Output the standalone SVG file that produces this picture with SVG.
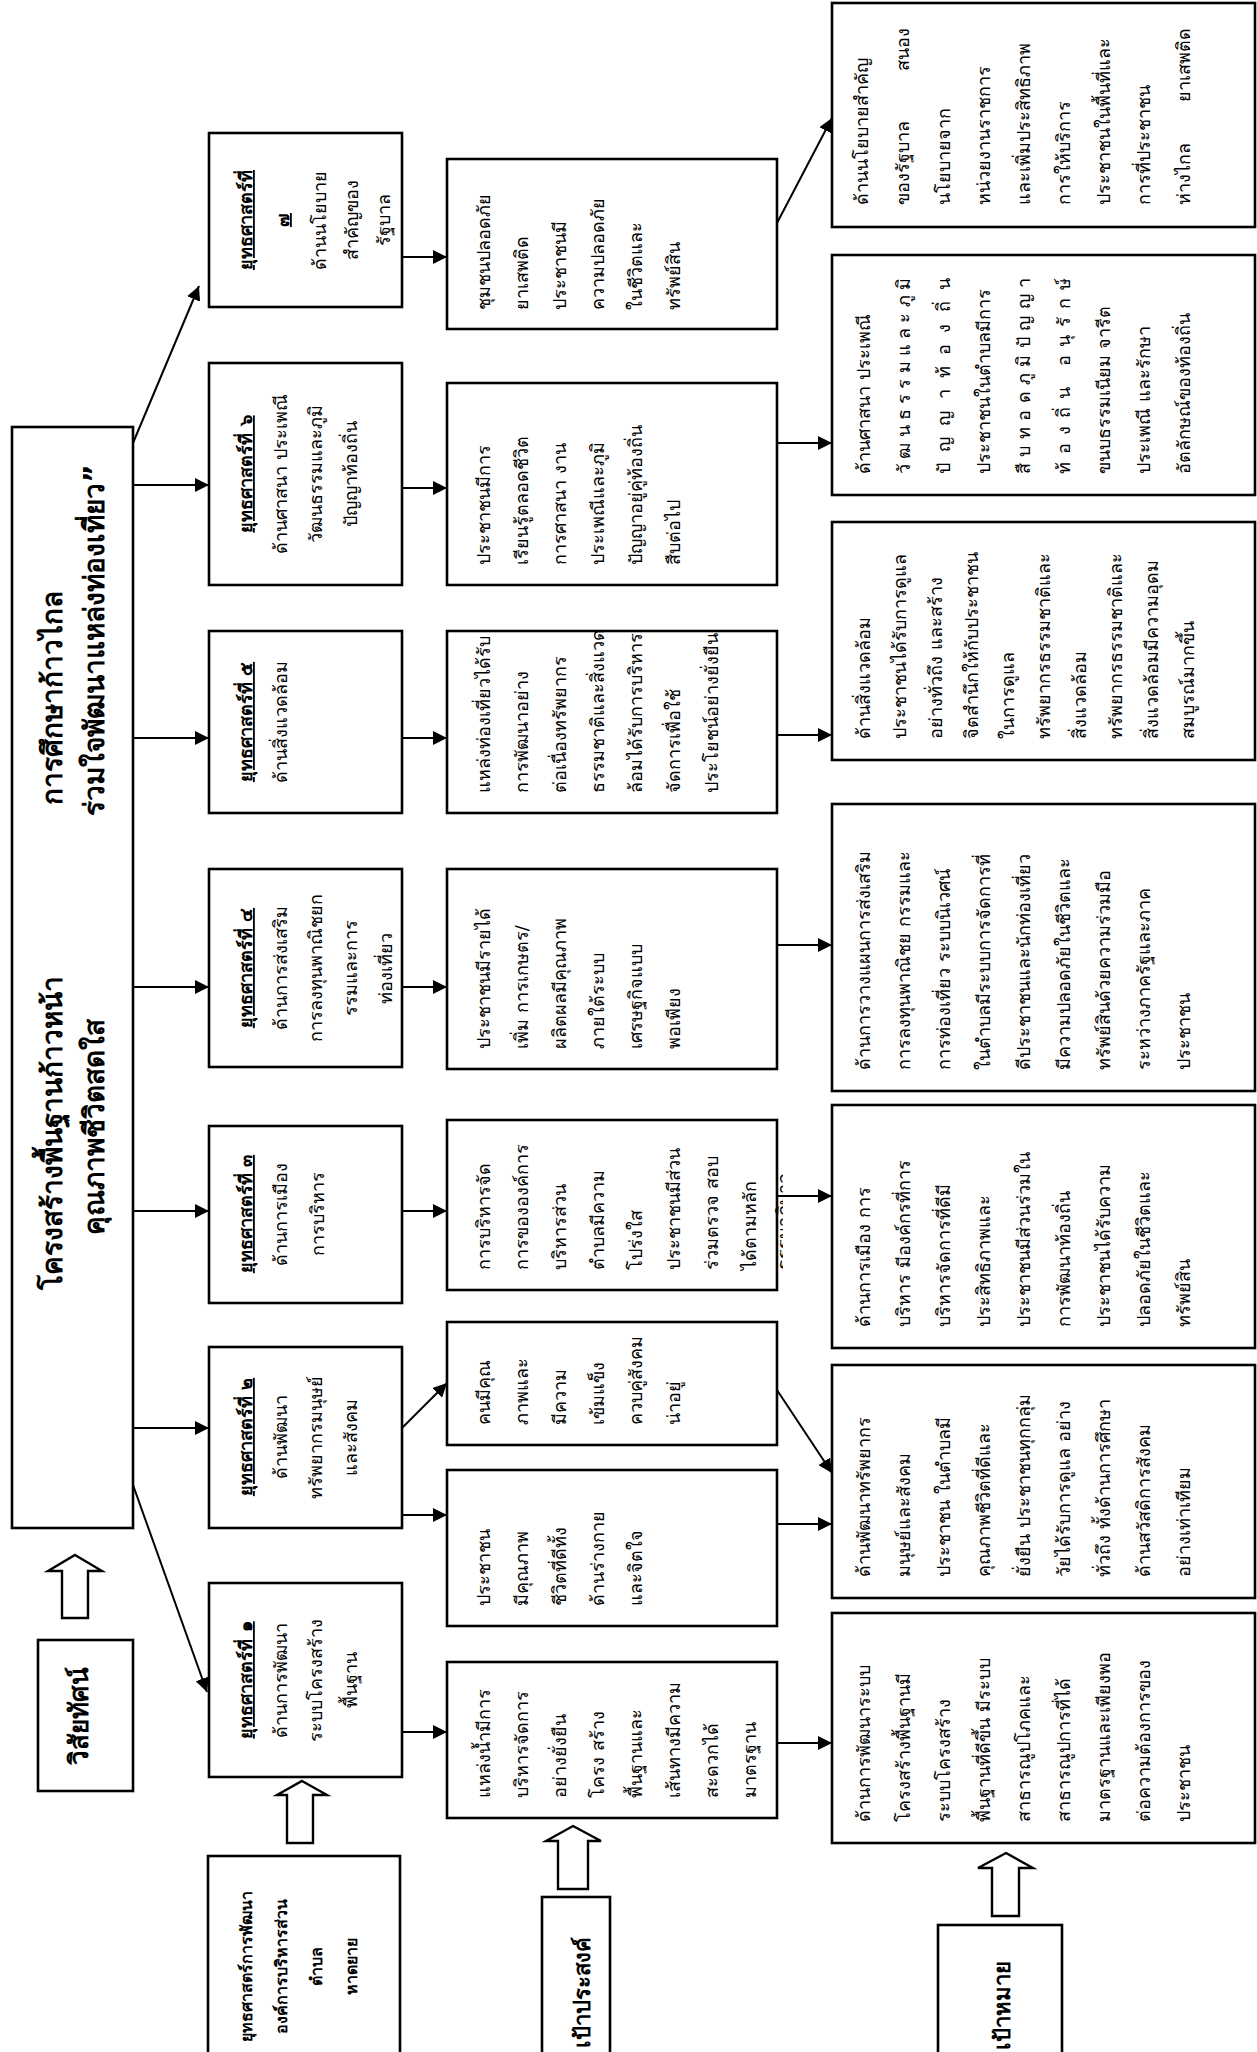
<svg xmlns="http://www.w3.org/2000/svg" width="1257" height="2052" viewBox="0 0 1257 2052">
<style>
.box{fill:#fff;stroke:#000;stroke-width:2.6}
.t{font-family:"DejaVu Sans",sans-serif;font-size:18px;fill:#000}
.c{text-anchor:middle}
.b{font-weight:bold}
.u{font-weight:bold;text-decoration:underline}
.ln{stroke:#000;stroke-width:2;fill:none;marker-end:url(#ah)}
.hol{fill:#fff;stroke:#000;stroke-width:2.4}
</style>
<defs>
<marker id="ah" viewBox="0 0 10 10" refX="10" refY="5" markerWidth="7" markerHeight="7" orient="auto" markerUnits="strokeWidth"><path d="M0,0 L10,5 L0,10 z" fill="#000"/></marker>
<clipPath id="cp3"><rect x="447" y="1120" width="336" height="170"/></clipPath>
</defs>
<rect width="1257" height="2052" fill="#fff"/>

<g id="title">
<rect class="box" x="12" y="427" width="121" height="1101"/>
<text class="t b c" style="font-size:28px" transform="translate(62,1133) rotate(-90)">โครงสร้างพื้นฐานก้าวหน้า</text>
<text class="t b c" style="font-size:28px" transform="translate(62,698) rotate(-90)">การศึกษาก้าวไกล</text>
<text class="t b c" style="font-size:28px" transform="translate(104,1127) rotate(-90)">คุณภาพชีวิตสดใส</text>
<text class="t b c" style="font-size:28px" transform="translate(104,640) rotate(-90)">ร่วมใจพัฒนาแหล่งท่องเที่ยว”</text>
</g>

<g id="vision">
<rect class="box" x="38" y="1640" width="95" height="151"/>
<text class="t b c" style="font-size:26px" transform="translate(88,1716) rotate(-90)">วิสัยทัศน์</text>
</g>
<g id="arrow-vision"><polygon class="hol" points="75,1555 102,1571 88,1571 88,1618 62,1618 62,1571 48,1571"/></g>

<g id="strategy-main">
<rect class="box" x="208" y="1856" width="192" height="220"/>
<text class="t b c" style="font-size:16px" transform="translate(252,1966) rotate(-90)">ยุทธศาสตร์การพัฒนา</text>
<text class="t b c" style="font-size:16px" transform="translate(287,1966) rotate(-90)">องค์การบริหารส่วน</text>
<text class="t b c" style="font-size:16px" transform="translate(322,1966) rotate(-90)">ตำบล</text>
<text class="t b c" style="font-size:16px" transform="translate(357,1966) rotate(-90)">หาดยาย</text>
</g>
<g id="arrow-strategy"><polygon class="hol" points="302,1781 327,1795 313,1795 313,1843 287,1843 287,1795 277,1795"/></g>

<g id="s1">
<rect class="box" x="209" y="1583" width="193" height="194"/>
<text class="t u c" transform="translate(252,1680) rotate(-90)">ยุทธศาสตร์ที่ ๑</text>
<text class="t c" transform="translate(287,1680) rotate(-90)">ด้านการพัฒนา</text>
<text class="t c" transform="translate(322,1680) rotate(-90)">ระบบโครงสร้าง</text>
<text class="t c" transform="translate(357,1680) rotate(-90)">พื้นฐาน</text>
</g>
<g id="s2">
<rect class="box" x="209" y="1347" width="193" height="181"/>
<text class="t u c" transform="translate(252,1437) rotate(-90)">ยุทธศาสตร์ที่ ๒</text>
<text class="t c" transform="translate(287,1437) rotate(-90)">ด้านพัฒนา</text>
<text class="t c" transform="translate(322,1437) rotate(-90)">ทรัพยากรมนุษย์</text>
<text class="t c" transform="translate(357,1437) rotate(-90)">และสังคม</text>
</g>
<g id="s3">
<rect class="box" x="209" y="1126" width="193" height="177"/>
<text class="t u c" transform="translate(252,1214) rotate(-90)">ยุทธศาสตร์ที่ ๓</text>
<text class="t c" transform="translate(287,1214) rotate(-90)">ด้านการเมือง</text>
<text class="t c" transform="translate(324,1214) rotate(-90)">การบริหาร</text>
</g>
<g id="s4">
<rect class="box" x="209" y="869" width="193" height="198"/>
<text class="t u c" transform="translate(252,968) rotate(-90)">ยุทธศาสตร์ที่ ๔</text>
<text class="t c" transform="translate(287,968) rotate(-90)">ด้านการส่งเสริม</text>
<text class="t c" transform="translate(322,968) rotate(-90)">การลงทุนพาณิชยก</text>
<text class="t c" transform="translate(357,968) rotate(-90)">รรมและการ</text>
<text class="t c" transform="translate(392,968) rotate(-90)">ท่องเที่ยว</text>
</g>
<g id="s5">
<rect class="box" x="209" y="631" width="193" height="182"/>
<text class="t u c" transform="translate(252,722) rotate(-90)">ยุทธศาสตร์ที่ ๕</text>
<text class="t c" transform="translate(287,722) rotate(-90)">ด้านสิ่งแวดล้อม</text>
</g>
<g id="s6">
<rect class="box" x="209" y="363" width="193" height="222"/>
<text class="t u c" transform="translate(252,474) rotate(-90)">ยุทธศาสตร์ที่ ๖</text>
<text class="t c" transform="translate(287,474) rotate(-90)">ด้านศาสนา ประเพณี</text>
<text class="t c" transform="translate(322,474) rotate(-90)">วัฒนธรรมและภูมิ</text>
<text class="t c" transform="translate(357,474) rotate(-90)">ปัญญาท้องถิ่น</text>
</g>
<g id="s7">
<rect class="box" x="209" y="133" width="193" height="174"/>
<text class="t u c" transform="translate(252,220) rotate(-90)">ยุทธศาสตร์ที่</text>
<text class="t u c" transform="translate(289,220) rotate(-90)">๗</text>
<text class="t c" transform="translate(326,220) rotate(-90)">ด้านนโยบาย</text>
<text class="t c" transform="translate(358,220) rotate(-90)">สำคัญของ</text>
<text class="t c" transform="translate(390,220) rotate(-90)">รัฐบาล</text>
</g>

<g id="purpose-label">
<rect class="box" x="542" y="1897" width="68" height="180"/>
<text class="t b" style="font-size:22px" transform="translate(590,2048) rotate(-90)">เป้าประสงค์</text>
</g>
<g id="arrow-purpose"><polygon class="hol" points="573,1826 601,1841 588,1841 588,1889 558,1889 558,1841 546,1841"/></g>

<g id="p1">
<rect class="box" x="447" y="1662" width="330" height="156"/>
<text class="t" transform="translate(490,1798) rotate(-90)">แหล่งน้ำมีการ</text>
<text class="t" transform="translate(528,1798) rotate(-90)">บริหารจัดการ</text>
<text class="t" transform="translate(566,1798) rotate(-90)">อย่างยั่งยืน</text>
<text class="t" transform="translate(604,1798) rotate(-90)">โครง สร้าง</text>
<text class="t" transform="translate(642,1798) rotate(-90)">พื้นฐานและ</text>
<text class="t" transform="translate(680,1798) rotate(-90)">เส้นทางมีความ</text>
<text class="t" transform="translate(718,1798) rotate(-90)">สะดวกได้</text>
<text class="t" transform="translate(756,1798) rotate(-90)">มาตรฐาน</text>
</g>
<g id="p2a">
<rect class="box" x="447" y="1470" width="330" height="156"/>
<text class="t" transform="translate(490,1606) rotate(-90)">ประชาชน</text>
<text class="t" transform="translate(528,1606) rotate(-90)">มีคุณภาพ</text>
<text class="t" transform="translate(566,1606) rotate(-90)">ชีวิตที่ดีทั้ง</text>
<text class="t" transform="translate(604,1606) rotate(-90)">ด้านร่างกาย</text>
<text class="t" transform="translate(642,1606) rotate(-90)">และจิตใจ</text>
</g>
<g id="p2b">
<rect class="box" x="447" y="1322" width="330" height="123"/>
<text class="t" transform="translate(490,1425) rotate(-90)">คนมีคุณ</text>
<text class="t" transform="translate(528,1425) rotate(-90)">ภาพและ</text>
<text class="t" transform="translate(566,1425) rotate(-90)">มีความ</text>
<text class="t" transform="translate(604,1425) rotate(-90)">เข้มแข็ง</text>
<text class="t" transform="translate(642,1425) rotate(-90)">ควบคู่สังคม</text>
<text class="t" transform="translate(680,1425) rotate(-90)">น่าอยู่</text>
</g>
<g id="p3">
<rect class="box" x="447" y="1120" width="330" height="170"/>
<g clip-path="url(#cp3)">
<text class="t" transform="translate(490,1270) rotate(-90)">การบริหารจัด</text>
<text class="t" transform="translate(528,1270) rotate(-90)">การขององค์การ</text>
<text class="t" transform="translate(566,1270) rotate(-90)">บริหารส่วน</text>
<text class="t" transform="translate(604,1270) rotate(-90)">ตำบลมีความ</text>
<text class="t" transform="translate(642,1270) rotate(-90)">โปร่งใส</text>
<text class="t" transform="translate(680,1270) rotate(-90)">ประชาชนมีส่วน</text>
<text class="t" transform="translate(718,1270) rotate(-90)">ร่วมตรวจ สอบ</text>
<text class="t" transform="translate(756,1270) rotate(-90)">ได้ตามหลัก</text>
<text class="t" transform="translate(790,1270) rotate(-90)">ธรรมาภิบาล</text>
</g>
</g>
<g id="p4">
<rect class="box" x="447" y="869" width="330" height="200"/>
<text class="t" transform="translate(490,1049) rotate(-90)">ประชาชนมีรายได้</text>
<text class="t" transform="translate(528,1049) rotate(-90)">เพิ่ม การเกษตร/</text>
<text class="t" transform="translate(566,1049) rotate(-90)">ผลิตผลมีคุณภาพ</text>
<text class="t" transform="translate(604,1049) rotate(-90)">ภายใต้ระบบ</text>
<text class="t" transform="translate(642,1049) rotate(-90)">เศรษฐกิจแบบ</text>
<text class="t" transform="translate(680,1049) rotate(-90)">พอเพียง</text>
</g>
<g id="p5">
<rect class="box" x="447" y="631" width="330" height="182"/>
<text class="t" transform="translate(490,793) rotate(-90)">แหล่งท่องเที่ยวได้รับ</text>
<text class="t" transform="translate(528,793) rotate(-90)">การพัฒนาอย่าง</text>
<text class="t" transform="translate(566,793) rotate(-90)">ต่อเนื่องทรัพยากร</text>
<text class="t" transform="translate(604,793) rotate(-90)">ธรรมชาติและสิ่งแวด</text>
<text class="t" transform="translate(642,793) rotate(-90)">ล้อมได้รับการบริหาร</text>
<text class="t" transform="translate(680,793) rotate(-90)">จัดการเพื่อใช้</text>
<text class="t" transform="translate(718,793) rotate(-90)">ประโยชน์อย่างยั่งยืน</text>
</g>
<g id="p6">
<rect class="box" x="447" y="383" width="330" height="202"/>
<text class="t" transform="translate(490,565) rotate(-90)">ประชาชนมีการ</text>
<text class="t" transform="translate(528,565) rotate(-90)">เรียนรู้ตลอดชีวิต</text>
<text class="t" transform="translate(566,565) rotate(-90)">การศาสนา งาน</text>
<text class="t" transform="translate(604,565) rotate(-90)">ประเพณีและภูมิ</text>
<text class="t" transform="translate(642,565) rotate(-90)">ปัญญาอยู่คู่ท้องถิ่น</text>
<text class="t" transform="translate(680,565) rotate(-90)">สืบต่อไป</text>
</g>
<g id="p7">
<rect class="box" x="447" y="159" width="330" height="170"/>
<text class="t" transform="translate(490,310) rotate(-90)">ชุมชนปลอดภัย</text>
<text class="t" transform="translate(528,310) rotate(-90)">ยาเสพติด</text>
<text class="t" transform="translate(566,310) rotate(-90)">ประชาชนมี</text>
<text class="t" transform="translate(604,310) rotate(-90)">ความปลอดภัย</text>
<text class="t" transform="translate(642,310) rotate(-90)">ในชีวิตและ</text>
<text class="t" transform="translate(680,310) rotate(-90)">ทรัพย์สิน</text>
</g>

<g id="goal-label">
<rect class="box" x="938" y="1925" width="124" height="160"/>
<text class="t b" style="font-size:22px" transform="translate(1010,2050) rotate(-90)">เป้าหมาย</text>
</g>
<g id="arrow-goal"><polygon class="hol" points="1006,1853 1033,1868 1019,1868 1019,1916 992,1916 992,1868 978,1868"/></g>

<g id="g1">
<rect class="box" x="832" y="1613" width="423" height="230"/>
<text class="t" transform="translate(870,1822) rotate(-90)">ด้านการพัฒนาระบบ</text>
<text class="t" transform="translate(910,1822) rotate(-90)">โครงสร้างพื้นฐานมี</text>
<text class="t" transform="translate(950,1822) rotate(-90)">ระบบโครงสร้าง</text>
<text class="t" transform="translate(990,1822) rotate(-90)">พื้นฐานที่ดีขึ้น มีระบบ</text>
<text class="t" transform="translate(1030,1822) rotate(-90)">สาธารณูปโภคและ</text>
<text class="t" transform="translate(1070,1822) rotate(-90)">สาธารณูปการที่ได้</text>
<text class="t" transform="translate(1110,1822) rotate(-90)">มาตรฐานและเพียงพอ</text>
<text class="t" transform="translate(1150,1822) rotate(-90)">ต่อความต้องการของ</text>
<text class="t" transform="translate(1190,1822) rotate(-90)">ประชาชน</text>
</g>
<g id="g2">
<rect class="box" x="832" y="1365" width="423" height="233"/>
<text class="t" transform="translate(870,1577) rotate(-90)">ด้านพัฒนาทรัพยากร</text>
<text class="t" transform="translate(910,1577) rotate(-90)">มนุษย์และสังคม</text>
<text class="t" transform="translate(950,1577) rotate(-90)">ประชาชน ในตำบลมี</text>
<text class="t" transform="translate(990,1577) rotate(-90)">คุณภาพชีวิตที่ดีและ</text>
<text class="t" transform="translate(1030,1577) rotate(-90)">ยั่งยืน ประชาชนทุกกลุ่ม</text>
<text class="t" transform="translate(1070,1577) rotate(-90)">วัยได้รับการดูแล อย่าง</text>
<text class="t" transform="translate(1110,1577) rotate(-90)">ทั่วถึง ทั้งด้านการศึกษา</text>
<text class="t" transform="translate(1150,1577) rotate(-90)">ด้านสวัสดิการสังคม</text>
<text class="t" transform="translate(1190,1577) rotate(-90)">อย่างเท่าเทียม</text>
</g>
<g id="g3">
<rect class="box" x="832" y="1105" width="423" height="243"/>
<text class="t" transform="translate(870,1327) rotate(-90)">ด้านการเมือง การ</text>
<text class="t" transform="translate(910,1327) rotate(-90)">บริหาร มีองค์กรที่การ</text>
<text class="t" transform="translate(950,1327) rotate(-90)">บริหารจัดการที่ดีมี</text>
<text class="t" transform="translate(990,1327) rotate(-90)">ประสิทธิภาพและ</text>
<text class="t" transform="translate(1030,1327) rotate(-90)">ประชาชนมีส่วนร่วมใน</text>
<text class="t" transform="translate(1070,1327) rotate(-90)">การพัฒนาท้องถิ่น</text>
<text class="t" transform="translate(1110,1327) rotate(-90)">ประชาชนได้รับความ</text>
<text class="t" transform="translate(1150,1327) rotate(-90)">ปลอดภัยในชีวิตและ</text>
<text class="t" transform="translate(1190,1327) rotate(-90)">ทรัพย์สิน</text>
</g>
<g id="g4">
<rect class="box" x="832" y="804" width="423" height="287"/>
<text class="t" transform="translate(870,1070) rotate(-90)">ด้านการวางแผนการส่งเสริม</text>
<text class="t" transform="translate(910,1070) rotate(-90)">การลงทุนพาณิชย กรรมและ</text>
<text class="t" transform="translate(950,1070) rotate(-90)">การท่องเที่ยว ระบบนิเวศน์</text>
<text class="t" transform="translate(990,1070) rotate(-90)">ในตำบลมีระบบการจัดการที่</text>
<text class="t" transform="translate(1030,1070) rotate(-90)">ดีประชาชนและนักท่องเที่ยว</text>
<text class="t" transform="translate(1070,1070) rotate(-90)">มีความปลอดภัยในชีวิตและ</text>
<text class="t" transform="translate(1110,1070) rotate(-90)">ทรัพย์สินด้วยความร่วมมือ</text>
<text class="t" transform="translate(1150,1070) rotate(-90)">ระหว่างภาครัฐและภาค</text>
<text class="t" transform="translate(1190,1070) rotate(-90)">ประชาชน</text>
</g>
<g id="g5">
<rect class="box" x="832" y="522" width="423" height="238"/>
<text class="t" transform="translate(870,739) rotate(-90)">ด้านสิ่งแวดล้อม</text>
<text class="t" transform="translate(906,739) rotate(-90)">ประชาชนได้รับการดูแล</text>
<text class="t" transform="translate(942,739) rotate(-90)">อย่างทั่วถึง และสร้าง</text>
<text class="t" transform="translate(978,739) rotate(-90)">จิตสำนึกให้กับประชาชน</text>
<text class="t" transform="translate(1014,739) rotate(-90)">ในการดูแล</text>
<text class="t" transform="translate(1050,739) rotate(-90)">ทรัพยากรธรรมชาติและ</text>
<text class="t" transform="translate(1086,739) rotate(-90)">สิ่งแวดล้อม</text>
<text class="t" transform="translate(1122,739) rotate(-90)">ทรัพยากรธรรมชาติและ</text>
<text class="t" transform="translate(1158,739) rotate(-90)">สิ่งแวดล้อมมีความอุดม</text>
<text class="t" transform="translate(1194,739) rotate(-90)">สมบูรณ์มากขึ้น</text>
</g>
<g id="g6">
<rect class="box" x="832" y="255" width="423" height="240"/>
<text class="t" transform="translate(870,474) rotate(-90)">ด้านศาสนา ประเพณี</text>
<text class="t" textLength="196" lengthAdjust="spacing" transform="translate(910,474) rotate(-90)">วัฒนธรรมและภูมิ</text>
<text class="t" textLength="196" lengthAdjust="spacing" transform="translate(950,474) rotate(-90)">ปัญญาท้องถิ่น</text>
<text class="t" transform="translate(990,474) rotate(-90)">ประชาชนในตำบลมีการ</text>
<text class="t" textLength="196" lengthAdjust="spacing" transform="translate(1030,474) rotate(-90)">สืบทอดภูมิปัญญา</text>
<text class="t" textLength="196" lengthAdjust="spacing" transform="translate(1070,474) rotate(-90)">ท้องถิ่น อนุรักษ์</text>
<text class="t" transform="translate(1110,474) rotate(-90)">ขนบธรรมเนียม จารีต</text>
<text class="t" transform="translate(1150,474) rotate(-90)">ประเพณี และรักษา</text>
<text class="t" transform="translate(1190,474) rotate(-90)">อัตลักษณ์ของท้องถิ่น</text>
</g>
<g id="g7">
<rect class="box" x="832" y="3" width="423" height="224"/>
<text class="t" transform="translate(868,205) rotate(-90)">ด้านนโยบายสำคัญ</text>
<text class="t" transform="translate(909,205) rotate(-90)">ของรัฐบาล</text>
<text class="t" style="text-anchor:end" transform="translate(909,28) rotate(-90)">สนอง</text>
<text class="t" transform="translate(950,205) rotate(-90)">นโยบายจาก</text>
<text class="t" transform="translate(990,205) rotate(-90)">หน่วยงานราชการ</text>
<text class="t" transform="translate(1030,205) rotate(-90)">และเพิ่มประสิทธิภาพ</text>
<text class="t" transform="translate(1070,205) rotate(-90)">การให้บริการ</text>
<text class="t" transform="translate(1110,205) rotate(-90)">ประชาชนในพื้นที่และ</text>
<text class="t" transform="translate(1150,205) rotate(-90)">การที่ประชาชน</text>
<text class="t" transform="translate(1190,205) rotate(-90)">ห่างไกล</text>
<text class="t" style="text-anchor:end" transform="translate(1190,28) rotate(-90)">ยาเสพติด</text>
</g>

<g id="connectors">
<path class="ln" d="M133,443 L199,286"/>
<path class="ln" d="M133,485 L209,485"/>
<path class="ln" d="M133,738 L209,738"/>
<path class="ln" d="M133,987 L209,987"/>
<path class="ln" d="M133,1211 L209,1211"/>
<path class="ln" d="M133,1428 L209,1428"/>
<path class="ln" d="M133,1485 L207,1692"/>
<path class="ln" d="M402,257 L447,257"/>
<path class="ln" d="M402,488 L447,488"/>
<path class="ln" d="M402,738 L447,738"/>
<path class="ln" d="M402,987 L447,987"/>
<path class="ln" d="M402,1211 L447,1211"/>
<path class="ln" d="M402,1428 L447,1383"/>
<path class="ln" d="M402,1515 L447,1515"/>
<path class="ln" d="M402,1732 L447,1732"/>
<path class="ln" d="M777,223 L832,118"/>
<path class="ln" d="M777,443 L832,443"/>
<path class="ln" d="M777,735 L832,735"/>
<path class="ln" d="M777,945 L832,945"/>
<path class="ln" d="M777,1196 L832,1196"/>
<path class="ln" d="M777,1390 L832,1473"/>
<path class="ln" d="M777,1524 L832,1524"/>
<path class="ln" d="M777,1743 L832,1743"/>
</g>
</svg>
